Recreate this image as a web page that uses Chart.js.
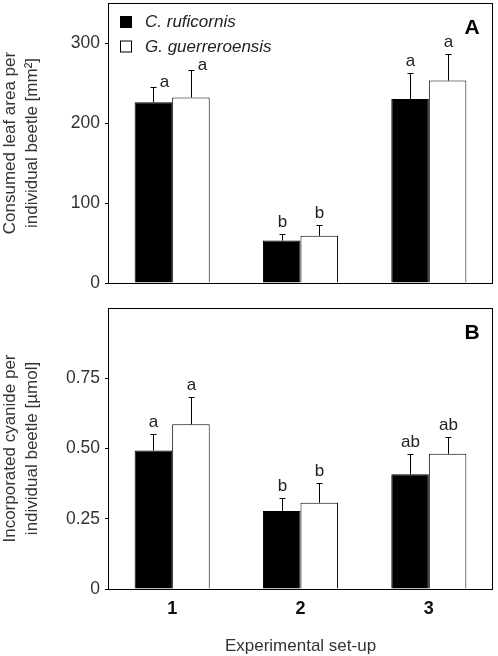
<!DOCTYPE html>
<html>
<head>
<meta charset="utf-8">
<script src="https://cdn.jsdelivr.net/npm/chart.js@4.4.1/dist/chart.umd.min.js"></script>
<style>
  body { margin: 0; background: #fff; }
  #wrap { position: relative; width: 498px; height: 656px; }
  canvas { position: absolute; left: 0; }
  #chartA { top: 0; width: 498px; height: 300px; }
  #chartB { top: 300px; width: 498px; height: 356px; }
</style>
</head>
<body>
<div id="wrap">
  <canvas id="chartA" width="498" height="300"></canvas>
  <canvas id="chartB" width="498" height="356"></canvas>
</div>
<script>
// experimental set-ups and species
const setups = ['1', '2', '3'];
const species = ['C. ruficornis', 'G. guerreroensis'];

// panel A: consumed leaf area [mm²], mean and SE
const leafRuf = [226, 53, 230];
const leafGue = [232, 59, 253];
const leafRufSE = [19, 8, 32];
const leafGueSE = [34, 14, 33];
const leafRufLetters = ['a', 'b', 'a'];
const leafGueLetters = ['a', 'b', 'a'];

// panel B: incorporated cyanide [µmol], mean and SE
const cyanRuf = [0.493, 0.278, 0.408];
const cyanGue = [0.586, 0.307, 0.481];
const cyanRufSE = [0.060, 0.046, 0.074];
const cyanGueSE = [0.097, 0.071, 0.060];
const cyanRufLetters = ['a', 'b', 'ab'];
const cyanGueLetters = ['a', 'b', 'ab'];

const FONT = '"Liberation Sans", Arial, sans-serif';
Chart.defaults.font.family = FONT;
Chart.defaults.color = '#222';

// frame, error bars, letters, legend, panel letter
const marks = {
  id: 'marks',
  afterDatasetsDraw(chart, args, opts) {
    const {ctx, chartArea: a} = chart;
    const y = chart.scales.y;
    ctx.save();
    ctx.strokeStyle = '#000';
    ctx.lineWidth = 1;
    ctx.strokeRect(Math.round(a.left) + 0.5, Math.round(a.top) + 0.5,
      Math.round(a.right - a.left) - 1, Math.round(a.bottom - a.top));

    chart.data.datasets.forEach((ds, di) => {
      const meta = chart.getDatasetMeta(di);
      meta.data.forEach((bar, i) => {
        const x = Math.round(bar.x) + 0.5;
        const y0 = y.getPixelForValue(ds.data[i]);
        const y1 = Math.round(y.getPixelForValue(ds.data[i] + opts.se[di][i])) + 0.5;
        ctx.beginPath();
        ctx.moveTo(x, y0);
        ctx.lineTo(x, y1);
        ctx.moveTo(x - 3, y1);
        ctx.lineTo(x + 3, y1);
        ctx.stroke();
        const sh = (opts.shift && opts.shift[i]) || [0, 8];
        ctx.fillStyle = '#222';
        ctx.font = '17px ' + FONT;
        ctx.textAlign = 'center';
        ctx.textBaseline = 'alphabetic';
        ctx.fillText(opts.letters[di][i], x + sh[0], y1 - sh[1]);
      });
    });

    if (opts.legend) {
      chart.data.datasets.forEach((ds, di) => {
        const cy = a.top + 19.5 + di * 24.5;
        ctx.fillStyle = ds.backgroundColor;
        ctx.fillRect(120.5, cy - 6, 11, 11);
        ctx.strokeRect(120.5, cy - 6, 11, 11);
        ctx.fillStyle = '#222';
        ctx.font = 'italic 17px ' + FONT;
        ctx.textAlign = 'left';
        ctx.textBaseline = 'middle';
        ctx.fillText(ds.label, 145, cy);
      });
    }

    ctx.fillStyle = '#000';
    ctx.font = 'bold 21px ' + FONT;
    ctx.textAlign = 'center';
    ctx.textBaseline = 'middle';
    ctx.fillText(opts.panel, 472, opts.panelY);
    ctx.restore();
  }
};

function makeChart(id, ruf, gue, opts) {
  return new Chart(document.getElementById(id), {
    type: 'bar',
    data: {
      labels: setups,
      datasets: [
        { label: species[0], data: ruf, backgroundColor: '#000', borderColor: '#000', borderWidth: 1 },
        { label: species[1], data: gue, backgroundColor: '#fff', borderColor: '#000', borderWidth: 1 }
      ]
    },
    options: {
      responsive: false,
      animation: false,
      categoryPercentage: 0.585,
      barPercentage: 1,
      layout: { padding: { top: opts.padTop, right: 5, left: 0, bottom: 0 } },
      plugins: {
        legend: { display: false },
        tooltip: { enabled: false },
        marks: opts.marks
      },
      scales: {
        x: {
          grid: { display: false, drawTicks: false },
          border: { display: false },
          ticks: {
            display: opts.showX,
            padding: 9,
            color: '#111',
            font: { size: 18, weight: 'bold' }
          },
          title: {
            display: opts.showX,
            text: 'Experimental set-up',
            color: '#333',
            font: { size: 17 },
            padding: { top: 0, bottom: -1 }
          },
          afterFit: s => { s.height = opts.xHeight; s.paddingLeft = 0; s.paddingRight = 0; }
        },
        y: {
          min: 0,
          max: opts.max,
          grid: { drawOnChartArea: false, drawTicks: true, tickLength: 3, color: '#000' },
          border: { display: false },
          ticks: {
            stepSize: opts.step,
            includeBounds: false,
            padding: 5,
            color: '#333',
            font: { size: 17.5 },
            callback: opts.fmt
          },
          afterBuildTicks: s => { s.ticks = s.ticks.filter(t => t.value < opts.max); },
          title: {
            display: true,
            text: opts.title,
            color: '#333',
            font: { size: 17, lineHeight: 1.32 },
            padding: { top: -1, bottom: 0 }
          },
          afterFit: s => { s.width = 108; s.paddingTop = 0; s.paddingBottom = 0; }
        }
      }
    },
    plugins: [marks]
  });
}

makeChart('chartA', leafRuf, leafGue, {
  padTop: 3, max: 350, step: 100, xHeight: 17, showX: false,
  fmt: v => String(v),
  title: ['Consumed leaf area per', 'individual beetle [mm²]'],
  marks: {
    se: [leafRufSE, leafGueSE],
    letters: [leafRufLetters, leafGueLetters],
    shift: [[11, 1], null, null],
    legend: true, panel: 'A', panelY: 28
  }
});

makeChart('chartB', cyanRuf, cyanGue, {
  padTop: 8, max: 1, step: 0.25, xHeight: 67, showX: true,
  fmt: v => (v === 0 ? '0' : v.toFixed(2)),
  title: ['Incorporated cyanide per', 'individual beetle [µmol]'],
  marks: {
    se: [cyanRufSE, cyanGueSE],
    letters: [cyanRufLetters, cyanGueLetters],
    legend: false, panel: 'B', panelY: 33
  }
});
</script>
</body>
</html>
